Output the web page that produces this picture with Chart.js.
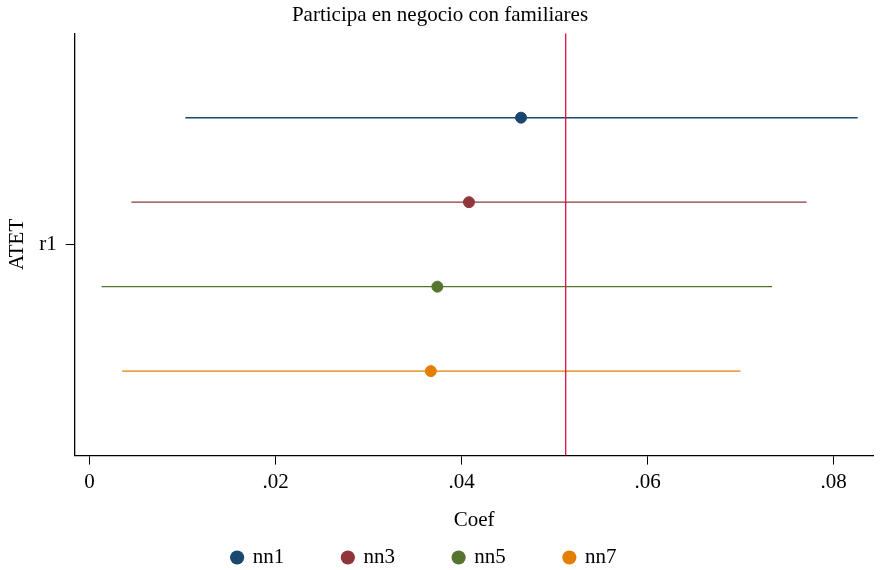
<!DOCTYPE html>
<html>
<head>
<meta charset="utf-8">
<script src="https://cdn.jsdelivr.net/npm/chart.js@4/dist/chart.umd.min.js"></script>
<style>
  body { margin: 0; background: #fff; }
  #wrap { width: 880px; height: 570px; }
</style>
</head>
<body>
<div id="wrap"><canvas id="myChart"></canvas></div>
<script>
// estimates
var models = ["nn1", "nn3", "nn5", "nn7"];
var coefs = [0.0464, 0.0408, 0.0374, 0.0367];
var lower = [0.0103, 0.0045, 0.0013, 0.0035];
var upper = [0.0826, 0.0771, 0.0734, 0.0700];
var offsets = [1.5, 0.5, -0.5, -1.5];
var xTicks = [0, 0.02, 0.04, 0.06, 0.08];
var refLine = 0.0512;
var colors = ["#1a476f", "#90353b", "#55752f", "#e37e00"];

var serif = "'Liberation Serif', 'DejaVu Serif', serif";
var gap = "\u00a0".repeat(11);
var tail = "\u00a0".repeat(6);

var datasets = [];
// points (these show in legend)
models.forEach(function(m, i) {
  datasets.push({
    label: m,
    data: [{ x: coefs[i], y: offsets[i] }],
    backgroundColor: colors[i],
    borderColor: colors[i],
    pointRadius: 5.5,
    pointHoverRadius: 5.5,
    pointStyle: "circle",
    order: 0
  });
});
// confidence intervals
models.forEach(function(m, i) {
  datasets.push({
    label: "ci_" + m,
    data: [{ x: lower[i], y: offsets[i] }, { x: upper[i], y: offsets[i] }],
    showLine: true,
    borderColor: colors[i],
    borderWidth: 1.4,
    pointRadius: 0,
    order: 2
  });
});
// reference line
datasets.push({
  label: "ref",
  data: [{ x: refLine, y: -2.5 }, { x: refLine, y: 2.5 }],
  showLine: true,
  borderColor: "#e0103f",
  borderWidth: 1.3,
  pointRadius: 0,
  order: 1
});

new Chart("myChart", {
  type: "scatter",
  data: { datasets: datasets },
  options: {
    responsive: true,
    maintainAspectRatio: false,
    animation: false,
    layout: { padding: { left: 5, right: 5, top: 0, bottom: -8 } },
    plugins: {
      title: {
        display: true,
        text: "Participa en negocio con familiares",
        color: "#000",
        font: { family: serif, size: 21, weight: "normal" },
        padding: { top: 3, bottom: 5 }
      },
      legend: {
        position: "bottom",
        labels: {
          generateLabels: function(chart) {
            return models.map(function(m, i) {
              return {
                text: i < models.length - 1 ? m + gap : m + tail,
                fillStyle: colors[i],
                strokeStyle: colors[i],
                lineWidth: 0,
                pointStyle: "circle",
                datasetIndex: i
              };
            });
          },
          usePointStyle: true,
          boxWidth: 10,
          boxHeight: 10,
          padding: 1,
          color: "#000",
          font: { family: serif, size: 21 }
        }
      },
      tooltip: { enabled: false }
    },
    scales: {
      x: {
        type: "linear",
        min: -0.0016,
        max: 0.0843,
        afterBuildTicks: function(axis) {
          axis.ticks = xTicks.map(function(v) { return { value: v }; });
        },
        ticks: {
          color: "#000",
          font: { family: serif, size: 21 },
          padding: 5,
          maxRotation: 0,
          callback: function(v) {
            if (v === 0) return "0";
            return String(+v.toFixed(2)).replace(/^0/, "");
          }
        },
        grid: { display: true, drawOnChartArea: false, drawTicks: true, tickLength: 9, color: "#000", lineWidth: 1 },
        border: { display: true, color: "#000", width: 1.3 },
        title: {
          display: true,
          text: "Coef",
          color: "#000",
          font: { family: serif, size: 21 },
          padding: { top: 8, bottom: 13 }
        }
      },
      y: {
        type: "linear",
        min: -2.5,
        max: 2.5,
        afterBuildTicks: function(axis) {
          axis.ticks = [{ value: 0 }];
        },
        ticks: {
          color: "#000",
          font: { family: serif, size: 21 },
          padding: 9,
          callback: function() { return "r1"; }
        },
        grid: { display: true, drawOnChartArea: false, drawTicks: true, tickLength: 9, color: "#000", lineWidth: 1 },
        border: { display: true, color: "#000", width: 1.3 },
        title: {
          display: true,
          text: "ATET",
          color: "#000",
          font: { family: serif, size: 21 },
          padding: { top: 0, bottom: 0 }
        }
      }
    }
  }
});
</script>
</body>
</html>
